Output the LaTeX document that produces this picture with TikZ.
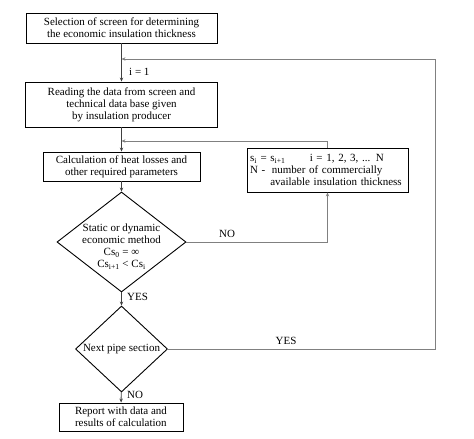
\documentclass[tikz,border=0pt]{standalone}
\usepackage{fontspec}
\setmainfont{Liberation Serif}
\usetikzlibrary{shapes.geometric,arrows.meta}
\begin{document}
\begin{tikzpicture}[x=1pt,y=-1pt,
  txt/.style={font=\fontsize{11}{12}\selectfont},
  box/.style={draw=black,line width=0.9pt,rectangle,inner sep=0pt,align=center,txt},
  dia/.style={draw=black,line width=0.9pt,diamond,inner sep=0pt},
  flow/.style={draw=black!75,line width=0.8pt,-{Stealth[length=4pt,width=3.4pt]}},
  back/.style={draw=black!50,line width=0.8pt,-{Stealth[length=4pt,width=3.4pt]}},
  lab/.style={txt,inner sep=0pt}]
\useasboundingbox (0,0) rectangle (474,439);
\node[box,minimum width=191pt,minimum height=30pt] (b1) at (121.5,28)
  {Selection of screen for determining\\the economic insulation thickness};
\node[box,minimum width=192pt,minimum height=45pt] (b2) at (121.5,104.5)
  {Reading the data from screen and\\technical data base given\\by insulation producer};
\node[box,minimum width=157pt,minimum height=29pt] (b3) at (121.5,166.5)
  {Calculation of heat losses and\\other required parameters};
\node[dia,minimum width=129pt,minimum height=100pt,
  label={[lab,align=center,yshift=-5pt]center:Static or dynamic\\economic method\\Cs\textsubscript{0} = ∞\\Cs\textsubscript{i+1} < Cs\textsubscript{i}}] (d1) at (121.5,242) {};
\node[box,minimum width=161pt,minimum height=44pt,align=left,text width=155pt] (b4) at (327.5,170)
  {s\textsubscript{i} = s\textsubscript{i+1}\hspace{2.2em}i = 1, 2, 3, ... N\\N -\hspace{0.6em}number of commercially\\\hspace{1.85em}available insulation thickness};
\node[dia,minimum width=92pt,minimum height=86pt,
  label={[lab]center:Next pipe section}] (d2) at (121.5,349) {};
\node[box,minimum width=124pt,minimum height=28pt,align=left] (b5) at (121,417)
  {Report with data and\\results of calculation};
\coordinate (j1) at (121.5,59);
\coordinate (j2) at (121.5,141);
\coordinate (rc) at (435,59);
\draw[flow] (b1) -- (b2);
\draw[flow] (b2) -- (b3);
\draw[flow] (b3) -- (d1);
\draw[flow] (d1) -- (d2);
\draw[flow] (d2) -- (b5);
\draw[back] (d1.east) -| (b4.south);
\draw[back] (b4.north) |- (j2);
\draw[back] (d2.east) -| (rc) -- (j1);
\node[lab,anchor=west] (l1) at (129,72) {i = 1};
\node[lab] (l2) at (227,234) {NO};
\node[lab,anchor=west] (l3) at (127,297) {YES};
\node[lab] (l4) at (286,341) {YES};
\node[lab,anchor=west] (l5) at (127,395) {NO};
\end{tikzpicture}
\end{document}
